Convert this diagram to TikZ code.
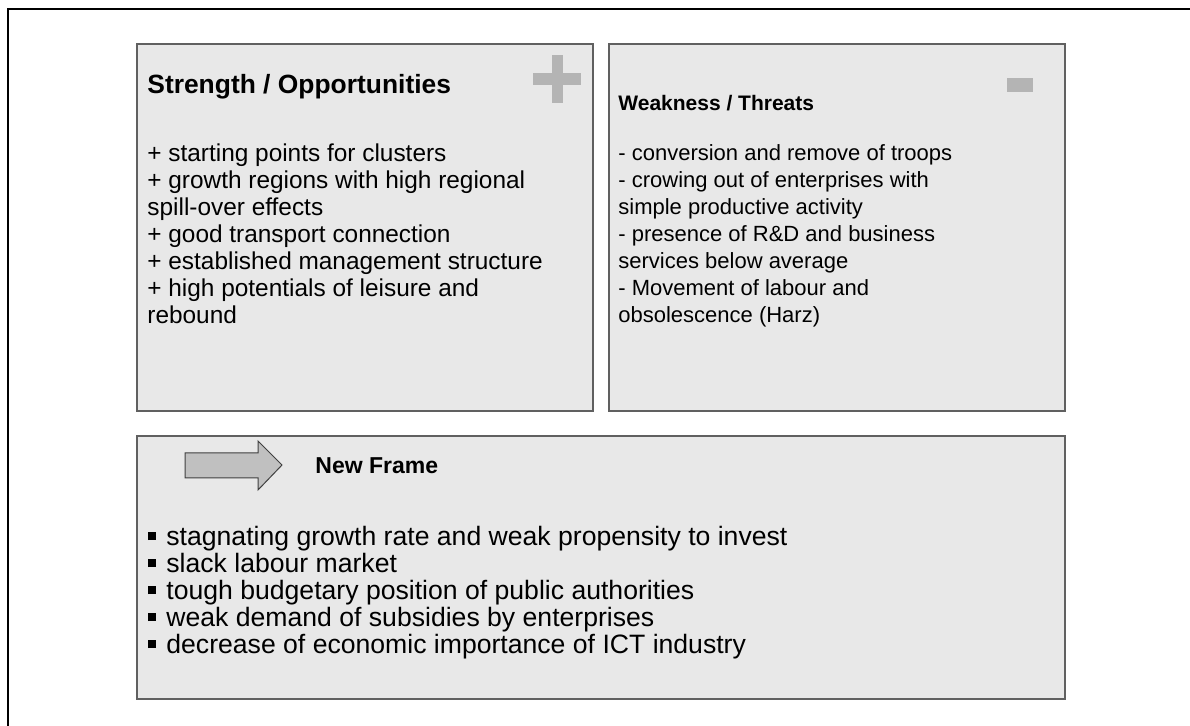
\documentclass[tikz,border=0pt]{standalone}
\usepackage{fontspec}
\setmainfont{Liberation Sans}
\definecolor{boxfill}{HTML}{E8E8E8}
\definecolor{boxline}{HTML}{606060}
\definecolor{signgray}{HTML}{B4B4B4}
\definecolor{arrowfill}{HTML}{C0C0C0}
\tikzset{
  panel/.style={draw=boxline, fill=boxfill, line width=1pt, inner sep=0pt, anchor=north west},
  body/.style={anchor=base west, inner sep=0pt, align=left},
  title/.style={anchor=base west, inner sep=0pt},
  sign/.style={fill=signgray, draw=none, inner sep=0pt, anchor=north west},
}
\newcommand{\sqbul}{\rule[0.2em]{4pt}{4pt}\hspace{5pt}}
\begin{document}
\begin{tikzpicture}[x=0.5pt,y=-0.5pt]
\useasboundingbox (0,0) rectangle (1190,726);
\begin{scope}
\clip (0,0) rectangle (1190,726);
\draw[line width=1.2pt] (8,740) |- (1200,9);
\end{scope}

% panels
\node[panel, minimum width=228pt, minimum height=183.5pt] (so) at (136,43) {};
\node[panel, minimum width=228pt, minimum height=183.5pt] (wt) at (608,43) {};
\node[panel, minimum width=464pt, minimum height=131.5pt] (nf) at (136,435) {};

% signs
\node[sign, minimum width=5.5pt, minimum height=24pt] (plusv) at (552,55) {};
\node[sign, minimum width=24pt, minimum height=6pt] (plush) at (533,73) {};
\node[sign, minimum width=13pt, minimum height=7pt] (minus) at (1007,78) {};

% titles
\node[title, font=\fontsize{13.2}{15}\selectfont\bfseries] (sot) at (147,94) {Strength / Opportunities};
\node[title, font=\fontsize{10.5}{13.5}\selectfont\bfseries] (wtt) at (618,110.5) {Weakness / Threats};
\node[title, font=\fontsize{11.5}{13.5}\selectfont\bfseries] (nft) at (315,474) {New Frame};

% bodies
\node[body, font=\fontsize{12.2}{13.5}\selectfont] (sob) at (147,324) {+ starting points for clusters\\
+ growth regions with high regional\\
spill-over effects\\
+ good transport connection\\
+ established management structure\\
+ high potentials of leisure and\\
rebound};
\node[body, font=\fontsize{11}{13.5}\selectfont] (wtb) at (618,323) {- conversion and remove of troops\\
- crowing out of enterprises with\\
simple productive activity\\
- presence of R\&D and business\\
services below average\\
- Movement of labour and\\
obsolescence (Harz)};
\node[body, font=\fontsize{13.3}{13.5}\selectfont] (nfb) at (148,653.5) {\sqbul stagnating growth rate and weak propensity to invest\\
\sqbul slack labour market\\
\sqbul tough budgetary position of public authorities\\
\sqbul weak demand of subsidies by enterprises\\
\sqbul decrease of economic importance of ICT industry};

% arrow
\draw[fill=arrowfill, draw=black!75, line width=0.5pt]
  (185,453) -- (258,453) -- (258,441) -- (282,465) -- (258,490) -- (258,478) -- (185,478) -- cycle;
\end{tikzpicture}
\end{document}
